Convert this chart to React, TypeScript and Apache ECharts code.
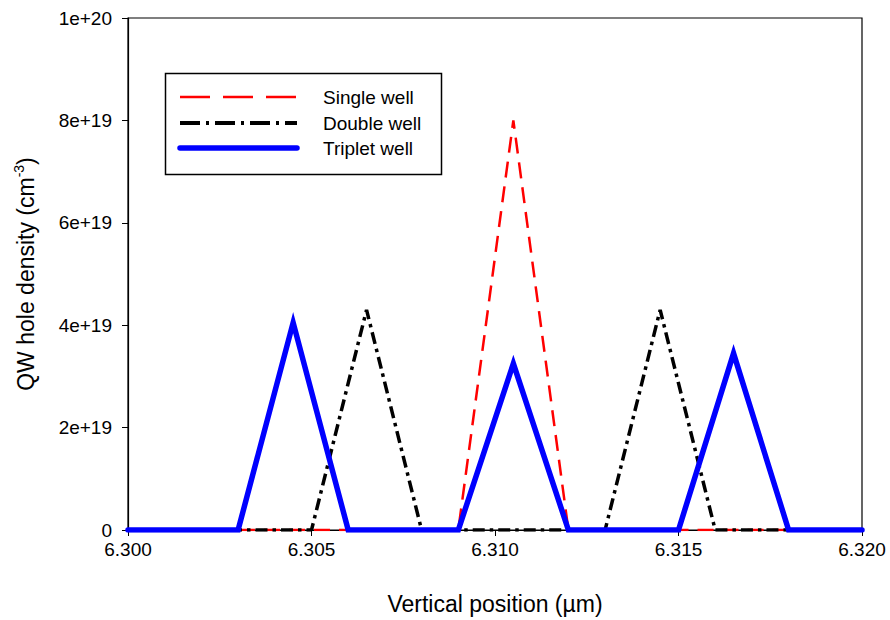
import React, { useEffect, useRef } from "react";
import * as echarts from "echarts";

const singleX = [6.3, 6.309, 6.3105, 6.312, 6.32];
const singleY = [0, 0, 8.0e19, 0, 0];
const doubleX = [6.3, 6.305, 6.3065, 6.308, 6.313, 6.3145, 6.316, 6.32];
const doubleY = [0, 0, 4.3e19, 0, 0, 4.3e19, 0, 0];
const tripletX = [6.3, 6.303, 6.3045, 6.306, 6.309, 6.3105, 6.312, 6.315, 6.3165, 6.318, 6.32];
const tripletY = [0, 0, 4.05e19, 0, 0, 3.25e19, 0, 0, 3.45e19, 0, 0];
const seriesNames = ["Single well", "Double well", "Triplet well"];

const FONT = "'Liberation Sans', Arial, sans-serif";

const zip = (xs: number[], ys: number[]) => xs.map((x, i) => [x, ys[i]]);

export default function App() {
  const ref = useRef<HTMLDivElement>(null);
  useEffect(() => {
    if (!ref.current) return;
    const chart = echarts.init(ref.current, null, { renderer: "svg" });
    const legendRows = [
      { y: 97, color: "#ff0000", width: 2.5, dash: [30, 13], cap: "butt" },
      { y: 123, color: "#000000", width: 4, dash: [20, 6, 3, 6], cap: "butt" },
      { y: 148, color: "#0000ff", width: 5.5, dash: null, cap: "round" },
    ];
    const graphic: any[] = [
      {
        type: "rect",
        shape: { x: 165.5, y: 73.5, width: 276, height: 101 },
        style: { fill: "#fff", stroke: "#000", lineWidth: 1.5 },
        z: 100,
      },
    ];
    legendRows.forEach((r, i) => {
      graphic.push({
        type: "line",
        shape: { x1: 180, y1: r.y, x2: 297, y2: r.y },
        style: {
          stroke: r.color,
          lineWidth: r.width,
          lineDash: r.dash || undefined,
          lineCap: r.cap,
        },
        z: 101,
      });
      graphic.push({
        type: "text",
        x: 323,
        y: r.y,
        style: {
          text: seriesNames[i],
          fill: "#000",
          font: `19px ${FONT}`,
          textVerticalAlign: "middle",
          textAlign: "left",
        },
        z: 101,
      });
    });

    chart.setOption({
      animation: false,
      backgroundColor: "#fff",
      textStyle: { fontFamily: FONT },
      grid: {
        left: 128,
        right: 28,
        top: 18,
        bottom: 90,
        show: true,
        borderColor: "#000",
        borderWidth: 1.2,
        backgroundColor: "transparent",
      },
      xAxis: {
        type: "value",
        min: 6.3,
        max: 6.32,
        interval: 0.005,
        name: "Vertical position (\u00b5m)",
        nameLocation: "middle",
        nameGap: 62,
        nameTextStyle: { fontSize: 23, color: "#000", fontFamily: FONT },
        axisLine: { show: true, lineStyle: { color: "#000", width: 1.2 } },
        axisTick: { show: true, inside: false, length: 6, lineStyle: { color: "#000" } },
        axisLabel: {
          fontSize: 19,
          color: "#000",
          margin: 10,
          formatter: (v: number) => v.toFixed(3),
        },
        splitLine: { show: false },
      },
      yAxis: {
        type: "value",
        min: 0,
        max: 1e20,
        interval: 2e19,
        name: "{a|QW hole density (cm}{s|-3}{a|)}",
        nameLocation: "middle",
        nameRotate: 90,
        nameGap: 88,
        nameTextStyle: {
          color: "#000",
          rich: {
            a: { fontSize: 23, fontFamily: FONT, color: "#000" },
            s: { fontSize: 14, fontFamily: FONT, color: "#000", verticalAlign: "top", padding: [0, 0, 14, 0] },
          },
        },
        axisLine: { show: true, lineStyle: { color: "#000", width: 1.2 } },
        axisTick: { show: true, inside: false, length: 6, lineStyle: { color: "#000" } },
        axisLabel: {
          fontSize: 19,
          color: "#000",
          margin: 16,
          formatter: (v: number) => (v === 0 ? "0" : v.toExponential(0)),
        },
        splitLine: { show: false },
      },
      series: [
        {
          name: seriesNames[0],
          type: "line",
          data: zip(singleX, singleY),
          showSymbol: false,
          symbol: "none",
          lineStyle: { color: "#ff0000", width: 2.5, type: [16, 9], dashOffset: 14 },
        },
        {
          name: seriesNames[1],
          type: "line",
          data: zip(doubleX, doubleY),
          showSymbol: false,
          symbol: "none",
          lineStyle: { color: "#000000", width: 3.5, type: [12, 5, 3.5, 5] },
        },
        {
          name: seriesNames[2],
          type: "line",
          data: zip(tripletX, tripletY),
          showSymbol: false,
          symbol: "none",
          lineStyle: { color: "#0000ff", width: 5.5, cap: "round", join: "miter" },
        },
      ],
      graphic,
    });
    return () => chart.dispose();
  }, []);
  return (
    <div
      ref={ref}
      style={{ position: "fixed", left: 0, top: 0, width: 890, height: 620, background: "#fff" }}
    />
  );
}
